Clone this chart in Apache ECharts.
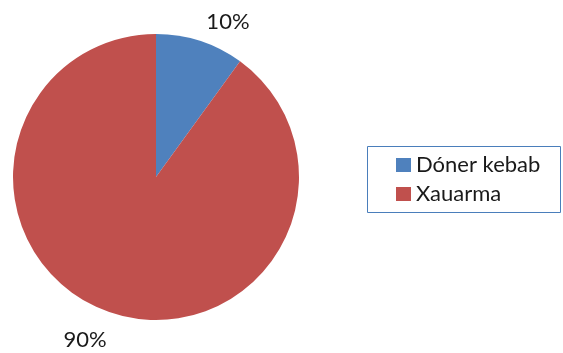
<!DOCTYPE html>
<html>
<head>
<meta charset="utf-8">
<style>
  html, body { margin: 0; padding: 0; background: #ffffff; }
  #chart { width: 563px; height: 353px; }
</style>
<script src="https://cdn.jsdelivr.net/npm/echarts@6/dist/echarts.min.js"></script>
</head>
<body>
<div id="chart"></div>
<script>
// Share of each dish
const categories = ['Dóner kebab', 'Xauarma'];
const shares = [10, 90];
const colors = ['#4F81BD', '#C0504D'];

const FONT = 'Lato, "Open Sans", "Liberation Sans", sans-serif';

const chart = echarts.init(document.getElementById('chart'), null, { renderer: 'canvas' });

// Labels below the pie sit a little lower than those above it
const slices = categories.map((name, i) => ({ name: name, value: shares[i] }));
slices[1].label = { offset: [1, 8] };

chart.setOption({
  backgroundColor: '#ffffff',
  animation: false,
  color: colors,
  legend: {
    orient: 'vertical',
    left: 391,
    top: 149,
    icon: 'rect',
    itemWidth: 15,
    itemHeight: 14,
    itemGap: 7,
    selectedMode: false,
    data: categories,
    textStyle: { fontFamily: FONT, fontSize: 22, color: '#1a1a1a', padding: [0, 0, 0, 0] }
  },
  graphic: [{
    type: 'rect',
    shape: { x: 367.5, y: 146.5, width: 193, height: 66 },
    style: { fill: 'none', stroke: '#4a7ebb', lineWidth: 1 },
    z: -1
  }],
  series: [{
    type: 'pie',
    center: [156, 177],
    radius: 143,
    startAngle: 90,
    clockwise: true,
    avoidLabelOverlap: false,
    itemStyle: { borderWidth: 0 },
    label: {
      show: true,
      position: 'outside',
      formatter: '{d}%',
      fontFamily: FONT,
      fontSize: 22,
      color: '#1a1a1a',
      distanceToLabelLine: 0
    },
    labelLine: { show: false, length: 20, length2: 0 },
    emphasis: { disabled: true },
    data: slices
  }]
});
</script>
</body>
</html>
